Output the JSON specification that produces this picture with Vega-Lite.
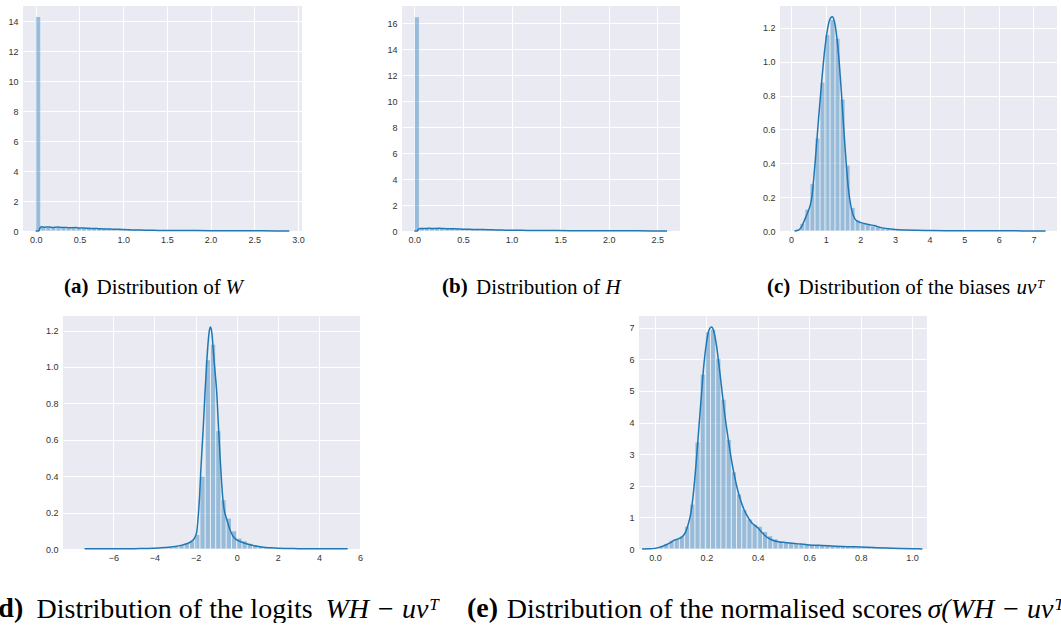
{
 "$schema": "https://vega.github.io/schema/vega-lite/v6.json",
 "background": "white",
 "padding": {"left": -11, "top": 6, "right": 0, "bottom": 0},
 "config": {
  "view": {"stroke": null, "fill": "#eaeaf2"},
  "axis": {"domain": false, "ticks": false, "grid": true, "gridColor": "#ffffff", "gridWidth": 1, "gridOpacity": 1, "labelFont": "Liberation Sans", "labelFontSize": 9, "labelColor": "#333333", "labelOverlap": false, "labelFlush": false, "labelBound": false, "titleFont": "Liberation Serif", "titleColor": "#000000", "titleFontWeight": "normal", "titleLimit": 2000, "titlePadding": 0},
  "axisX": {"labelPadding": 4},
  "axisY": {"labelPadding": 5}
 },
 "datasets": {
  "ha": [
   {"v":0,"v2":0.058,"density":14.3},{"v":0.058,"v2":0.116,"density":0.26},{"v":0.116,"v2":0.174,"density":0.24},{"v":0.174,"v2":0.232,"density":0.25},{"v":0.232,"v2":0.29,"density":0.23},{"v":0.29,"v2":0.348,"density":0.22},{"v":0.348,"v2":0.406,"density":0.23},{"v":0.406,"v2":0.464,"density":0.21},{"v":0.464,"v2":0.522,"density":0.21},{"v":0.522,"v2":0.58,"density":0.2},
   {"v":0.58,"v2":0.638,"density":0.19},{"v":0.638,"v2":0.696,"density":0.18},{"v":0.696,"v2":0.754,"density":0.17},{"v":0.754,"v2":0.812,"density":0.16},{"v":0.812,"v2":0.87,"density":0.15},{"v":0.87,"v2":0.928,"density":0.14},{"v":0.928,"v2":0.986,"density":0.13},{"v":0.986,"v2":1.044,"density":0.12},{"v":1.044,"v2":1.102,"density":0.11},{"v":1.102,"v2":1.16,"density":0.1},
   {"v":1.16,"v2":1.218,"density":0.09},{"v":1.218,"v2":1.276,"density":0.08},{"v":1.276,"v2":1.334,"density":0.07},{"v":1.334,"v2":1.392,"density":0.06},{"v":1.392,"v2":1.45,"density":0.055},{"v":1.45,"v2":1.508,"density":0.05},{"v":1.508,"v2":1.566,"density":0.045},{"v":1.566,"v2":1.624,"density":0.04},{"v":1.624,"v2":1.682,"density":0.038},{"v":1.682,"v2":1.74,"density":0.035},
   {"v":1.74,"v2":1.798,"density":0.032},{"v":1.798,"v2":1.856,"density":0.03},{"v":1.856,"v2":1.914,"density":0.028},{"v":1.914,"v2":1.972,"density":0.026},{"v":1.972,"v2":2.03,"density":0.025},{"v":2.03,"v2":2.088,"density":0.023},{"v":2.088,"v2":2.146,"density":0.022},{"v":2.146,"v2":2.204,"density":0.02},{"v":2.204,"v2":2.262,"density":0.019},{"v":2.262,"v2":2.32,"density":0.018},
   {"v":2.32,"v2":2.378,"density":0.016},{"v":2.378,"v2":2.436,"density":0.015},{"v":2.436,"v2":2.494,"density":0.014},{"v":2.494,"v2":2.552,"density":0.013},{"v":2.552,"v2":2.61,"density":0.012},{"v":2.61,"v2":2.668,"density":0.011},{"v":2.668,"v2":2.726,"density":0.01},{"v":2.726,"v2":2.784,"density":0.009},{"v":2.784,"v2":2.842,"density":0.008},{"v":2.842,"v2":2.9,"density":0.007}
  ],
  "ka": [
   {"v":0,"density":0},{"v":0.035,"density":0},{"v":0.05,"density":0.2},{"v":0.065,"density":0.28},{"v":0.1,"density":0.25},{"v":0.15,"density":0.27},{"v":0.2,"density":0.24},{"v":0.25,"density":0.26},{"v":0.3,"density":0.23},{"v":0.35,"density":0.24},{"v":0.4,"density":0.21},{"v":0.45,"density":0.23},{"v":0.5,"density":0.2},{"v":0.55,"density":0.2},{"v":0.6,"density":0.18},{"v":0.65,"density":0.17},{"v":0.7,"density":0.16},{"v":0.75,"density":0.15},{"v":0.8,"density":0.13},{"v":0.85,"density":0.13},{"v":0.9,"density":0.11},{"v":0.95,"density":0.11},{"v":1.0,"density":0.1},{"v":1.05,"density":0.09},{"v":1.1,"density":0.07},{"v":1.2,"density":0.06},{"v":1.3,"density":0.05},{"v":1.4,"density":0.04},{"v":1.5,"density":0.035},{"v":1.7,"density":0.03},{"v":2.0,"density":0.02},{"v":2.3,"density":0.015},{"v":2.6,"density":0.01},{"v":2.9,"density":0.005}
  ],
  "hb": [
   {"v":0,"v2":0.052,"density":16.5},{"v":0.052,"v2":0.104,"density":0.2},{"v":0.104,"v2":0.156,"density":0.19},{"v":0.156,"v2":0.208,"density":0.2},{"v":0.208,"v2":0.26,"density":0.19},{"v":0.26,"v2":0.312,"density":0.2},{"v":0.312,"v2":0.364,"density":0.18},{"v":0.364,"v2":0.416,"density":0.19},{"v":0.416,"v2":0.468,"density":0.17},{"v":0.468,"v2":0.52,"density":0.16},
   {"v":0.52,"v2":0.572,"density":0.15},{"v":0.572,"v2":0.624,"density":0.14},{"v":0.624,"v2":0.676,"density":0.13},{"v":0.676,"v2":0.728,"density":0.12},{"v":0.728,"v2":0.78,"density":0.11},{"v":0.78,"v2":0.832,"density":0.1},{"v":0.832,"v2":0.884,"density":0.09},{"v":0.884,"v2":0.936,"density":0.085},{"v":0.936,"v2":0.988,"density":0.08},{"v":0.988,"v2":1.04,"density":0.07},
   {"v":1.04,"v2":1.092,"density":0.065},{"v":1.092,"v2":1.144,"density":0.06},{"v":1.144,"v2":1.196,"density":0.055},{"v":1.196,"v2":1.248,"density":0.05},{"v":1.248,"v2":1.3,"density":0.045},{"v":1.3,"v2":1.352,"density":0.04},{"v":1.352,"v2":1.404,"density":0.037},{"v":1.404,"v2":1.456,"density":0.034},{"v":1.456,"v2":1.508,"density":0.031},{"v":1.508,"v2":1.56,"density":0.028},
   {"v":1.56,"v2":1.612,"density":0.026},{"v":1.612,"v2":1.664,"density":0.024},{"v":1.664,"v2":1.716,"density":0.022},{"v":1.716,"v2":1.768,"density":0.02},{"v":1.768,"v2":1.82,"density":0.019},{"v":1.82,"v2":1.872,"density":0.018},{"v":1.872,"v2":1.924,"density":0.017},{"v":1.924,"v2":1.976,"density":0.016},{"v":1.976,"v2":2.028,"density":0.015},{"v":2.028,"v2":2.08,"density":0.014},
   {"v":2.08,"v2":2.132,"density":0.013},{"v":2.132,"v2":2.184,"density":0.012},{"v":2.184,"v2":2.236,"density":0.011},{"v":2.236,"v2":2.288,"density":0.01},{"v":2.288,"v2":2.34,"density":0.009},{"v":2.34,"v2":2.392,"density":0.008},{"v":2.392,"v2":2.444,"density":0.007},{"v":2.444,"v2":2.496,"density":0.006},{"v":2.496,"v2":2.548,"density":0.006},{"v":2.548,"v2":2.6,"density":0.005}
  ],
  "kb": [
   {"v":0,"density":0},{"v":0.03,"density":0},{"v":0.045,"density":0.17},{"v":0.06,"density":0.2},{"v":0.1,"density":0.19},{"v":0.15,"density":0.21},{"v":0.2,"density":0.19},{"v":0.25,"density":0.21},{"v":0.3,"density":0.19},{"v":0.35,"density":0.18},{"v":0.4,"density":0.17},{"v":0.45,"density":0.16},{"v":0.5,"density":0.14},{"v":0.55,"density":0.13},{"v":0.6,"density":0.12},{"v":0.7,"density":0.11},{"v":0.8,"density":0.09},{"v":0.9,"density":0.07},{"v":1.0,"density":0.06},{"v":1.1,"density":0.05},{"v":1.2,"density":0.045},{"v":1.4,"density":0.035},{"v":1.6,"density":0.025},{"v":1.8,"density":0.02},{"v":2.0,"density":0.015},{"v":2.3,"density":0.01},{"v":2.6,"density":0.005}
  ],
  "hc": [
   {"v":0.11,"v2":0.255,"density":0.008},{"v":0.255,"v2":0.4,"density":0.045},{"v":0.4,"v2":0.545,"density":0.13},{"v":0.545,"v2":0.69,"density":0.28},{"v":0.69,"v2":0.835,"density":0.55},{"v":0.835,"v2":0.98,"density":0.88},{"v":0.98,"v2":1.125,"density":1.16},{"v":1.125,"v2":1.27,"density":1.25},{"v":1.27,"v2":1.415,"density":1.14},{"v":1.415,"v2":1.56,"density":0.78},
   {"v":1.56,"v2":1.705,"density":0.39},{"v":1.705,"v2":1.85,"density":0.14},{"v":1.85,"v2":1.995,"density":0.065},{"v":1.995,"v2":2.14,"density":0.045},{"v":2.14,"v2":2.285,"density":0.037},{"v":2.285,"v2":2.43,"density":0.03},{"v":2.43,"v2":2.575,"density":0.025},{"v":2.575,"v2":2.72,"density":0.018},{"v":2.72,"v2":2.865,"density":0.012},{"v":2.865,"v2":3.01,"density":0.008},
   {"v":3.01,"v2":3.155,"density":0.006},{"v":3.155,"v2":3.3,"density":0.005},{"v":3.3,"v2":3.445,"density":0.004},{"v":3.445,"v2":3.59,"density":0.003},{"v":3.59,"v2":3.735,"density":0.002},{"v":3.735,"v2":3.88,"density":0.002},{"v":3.88,"v2":4.025,"density":0.002},{"v":4.025,"v2":4.17,"density":0.002},{"v":4.17,"v2":4.315,"density":0.002},{"v":4.315,"v2":4.46,"density":0.002},
   {"v":4.46,"v2":4.605,"density":0.002},{"v":4.605,"v2":4.75,"density":0.001},{"v":4.75,"v2":4.895,"density":0.001},{"v":4.895,"v2":5.04,"density":0.001},{"v":5.04,"v2":5.185,"density":0.001},{"v":5.185,"v2":5.33,"density":0.001},{"v":5.33,"v2":5.475,"density":0.001},{"v":5.475,"v2":5.62,"density":0.001},{"v":5.62,"v2":5.765,"density":0.001},{"v":5.765,"v2":5.91,"density":0.001},
   {"v":5.91,"v2":6.055,"density":0.001},{"v":6.055,"v2":6.2,"density":0.001},{"v":6.2,"v2":6.345,"density":0.001},{"v":6.345,"v2":6.49,"density":0.001},{"v":6.49,"v2":6.635,"density":0.001},{"v":6.635,"v2":6.78,"density":0.001},{"v":6.78,"v2":6.925,"density":0.001},{"v":6.925,"v2":7.07,"density":0.001},{"v":7.07,"v2":7.215,"density":0.001},{"v":7.215,"v2":7.36,"density":0.001}
  ],
  "kc": [
   {"v":0.1,"density":0},{"v":0.2,"density":0.004},{"v":0.3,"density":0.025},{"v":0.4,"density":0.07},{"v":0.45,"density":0.095},{"v":0.5,"density":0.12},{"v":0.55,"density":0.15},{"v":0.6,"density":0.2},{"v":0.65,"density":0.3},{"v":0.7,"density":0.42},{"v":0.75,"density":0.55},{"v":0.8,"density":0.68},{"v":0.85,"density":0.8},{"v":0.9,"density":0.92},{"v":0.95,"density":1.03},{"v":1.0,"density":1.12},{"v":1.05,"density":1.19},{"v":1.1,"density":1.24},{"v":1.15,"density":1.262},{"v":1.19,"density":1.267},{"v":1.25,"density":1.24},{"v":1.3,"density":1.18},{"v":1.35,"density":1.09},{"v":1.4,"density":0.97},{"v":1.45,"density":0.83},{"v":1.5,"density":0.67},{"v":1.55,"density":0.52},{"v":1.6,"density":0.38},{"v":1.65,"density":0.26},{"v":1.7,"density":0.18},{"v":1.75,"density":0.125},{"v":1.8,"density":0.09},{"v":1.85,"density":0.07},{"v":1.9,"density":0.06},{"v":2.0,"density":0.05},{"v":2.1,"density":0.045},{"v":2.2,"density":0.04},{"v":2.3,"density":0.036},{"v":2.4,"density":0.032},{"v":2.5,"density":0.026},{"v":2.6,"density":0.02},{"v":2.8,"density":0.013},{"v":3.0,"density":0.009},{"v":3.3,"density":0.006},{"v":3.6,"density":0.004},{"v":4.0,"density":0.003},{"v":4.5,"density":0.002},{"v":5.0,"density":0.0015},{"v":6.0,"density":0.001},{"v":7.35,"density":0.0005}
  ],
  "hd": [
   {"v":-7.41,"v2":-7.154,"density":0.001},{"v":-7.154,"v2":-6.899,"density":0.001},{"v":-6.899,"v2":-6.643,"density":0.001},{"v":-6.643,"v2":-6.388,"density":0.001},{"v":-6.388,"v2":-6.132,"density":0.001},{"v":-6.132,"v2":-5.876,"density":0.001},{"v":-5.876,"v2":-5.621,"density":0.001},{"v":-5.621,"v2":-5.365,"density":0.001},{"v":-5.365,"v2":-5.11,"density":0.001},{"v":-5.11,"v2":-4.854,"density":0.001},
   {"v":-4.854,"v2":-4.598,"density":0.002},{"v":-4.598,"v2":-4.343,"density":0.002},{"v":-4.343,"v2":-4.087,"density":0.002},{"v":-4.087,"v2":-3.832,"density":0.002},{"v":-3.832,"v2":-3.576,"density":0.003},{"v":-3.576,"v2":-3.32,"density":0.005},{"v":-3.32,"v2":-3.065,"density":0.008},{"v":-3.065,"v2":-2.809,"density":0.012},{"v":-2.809,"v2":-2.554,"density":0.02},{"v":-2.554,"v2":-2.298,"density":0.03},
   {"v":-2.298,"v2":-2.042,"density":0.045},{"v":-2.042,"v2":-1.787,"density":0.08},{"v":-1.787,"v2":-1.531,"density":0.4},{"v":-1.531,"v2":-1.276,"density":1.04},{"v":-1.276,"v2":-1.02,"density":1.125},{"v":-1.02,"v2":-0.764,"density":0.65},{"v":-0.764,"v2":-0.509,"density":0.27},{"v":-0.509,"v2":-0.253,"density":0.17},{"v":-0.253,"v2":0.002,"density":0.1},{"v":0.002,"v2":0.258,"density":0.06},
   {"v":0.258,"v2":0.514,"density":0.045},{"v":0.514,"v2":0.769,"density":0.032},{"v":0.769,"v2":1.025,"density":0.022},{"v":1.025,"v2":1.28,"density":0.014},{"v":1.28,"v2":1.536,"density":0.009},{"v":1.536,"v2":1.792,"density":0.006},{"v":1.792,"v2":2.047,"density":0.004},{"v":2.047,"v2":2.303,"density":0.003},{"v":2.303,"v2":2.558,"density":0.002},{"v":2.558,"v2":2.814,"density":0.002},
   {"v":2.814,"v2":3.07,"density":0.002},{"v":3.07,"v2":3.325,"density":0.002},{"v":3.325,"v2":3.581,"density":0.002},{"v":3.581,"v2":3.836,"density":0.001},{"v":3.836,"v2":4.092,"density":0.001},{"v":4.092,"v2":4.348,"density":0.001},{"v":4.348,"v2":4.603,"density":0.001},{"v":4.603,"v2":4.859,"density":0.001},{"v":4.859,"v2":5.114,"density":0.001},{"v":5.114,"v2":5.37,"density":0.001}
  ],
  "kd": [
   {"v":-7.4,"density":0.002},{"v":-6,"density":0.002},{"v":-5,"density":0.002},{"v":-4.5,"density":0.003},{"v":-4,"density":0.004},{"v":-3.5,"density":0.008},{"v":-3,"density":0.014},{"v":-2.7,"density":0.02},{"v":-2.4,"density":0.03},{"v":-2.2,"density":0.042},{"v":-2.05,"density":0.06},{"v":-1.95,"density":0.09},{"v":-1.87,"density":0.18},{"v":-1.8,"density":0.3},{"v":-1.75,"density":0.42},{"v":-1.68,"density":0.56},{"v":-1.62,"density":0.68},{"v":-1.55,"density":0.84},{"v":-1.46,"density":1.02},{"v":-1.4,"density":1.12},{"v":-1.33,"density":1.2},{"v":-1.27,"density":1.22},{"v":-1.2,"density":1.18},{"v":-1.13,"density":1.08},{"v":-1.05,"density":0.97},{"v":-0.97,"density":0.86},{"v":-0.89,"density":0.68},{"v":-0.81,"density":0.51},{"v":-0.73,"density":0.36},{"v":-0.65,"density":0.25},{"v":-0.58,"density":0.2},{"v":-0.53,"density":0.18},{"v":-0.45,"density":0.15},{"v":-0.38,"density":0.125},{"v":-0.32,"density":0.105},{"v":-0.2,"density":0.075},{"v":-0.1,"density":0.06},{"v":0,"density":0.05},{"v":0.2,"density":0.04},{"v":0.4,"density":0.032},{"v":0.6,"density":0.025},{"v":0.8,"density":0.02},{"v":1.0,"density":0.015},{"v":1.3,"density":0.01},{"v":1.6,"density":0.007},{"v":2.0,"density":0.004},{"v":3,"density":0.002},{"v":4,"density":0.001},{"v":5.4,"density":0.001}
  ],
  "he": [
   {"v":-0.006,"v2":0.0142,"density":0.04},{"v":0.0142,"v2":0.0344,"density":0.1},{"v":0.0344,"v2":0.0546,"density":0.18},{"v":0.0546,"v2":0.0748,"density":0.28},{"v":0.0748,"v2":0.095,"density":0.33},{"v":0.095,"v2":0.1152,"density":0.42},{"v":0.1152,"v2":0.1354,"density":0.72},{"v":0.1354,"v2":0.1556,"density":1.42},{"v":0.1556,"v2":0.1758,"density":3.39},{"v":0.1758,"v2":0.196,"density":5.53},
   {"v":0.196,"v2":0.2162,"density":6.87},{"v":0.2162,"v2":0.2364,"density":6.95},{"v":0.2364,"v2":0.2566,"density":6.03},{"v":0.2566,"v2":0.2768,"density":4.74},{"v":0.2768,"v2":0.297,"density":3.47},{"v":0.297,"v2":0.3172,"density":2.44},{"v":0.3172,"v2":0.3374,"density":1.74},{"v":0.3374,"v2":0.3576,"density":1.25},{"v":0.3576,"v2":0.3778,"density":0.95},{"v":0.3778,"v2":0.398,"density":0.78},
   {"v":0.398,"v2":0.4182,"density":0.72},{"v":0.4182,"v2":0.4384,"density":0.55},{"v":0.4384,"v2":0.4586,"density":0.42},{"v":0.4586,"v2":0.4788,"density":0.32},{"v":0.4788,"v2":0.499,"density":0.25},{"v":0.499,"v2":0.5192,"density":0.22},{"v":0.5192,"v2":0.5394,"density":0.2},{"v":0.5394,"v2":0.5596,"density":0.18},{"v":0.5596,"v2":0.5798,"density":0.16},{"v":0.5798,"v2":0.6,"density":0.15},
   {"v":0.6,"v2":0.6202,"density":0.14},{"v":0.6202,"v2":0.6404,"density":0.13},{"v":0.6404,"v2":0.6606,"density":0.12},{"v":0.6606,"v2":0.6808,"density":0.11},{"v":0.6808,"v2":0.701,"density":0.1},{"v":0.701,"v2":0.7212,"density":0.09},{"v":0.7212,"v2":0.7414,"density":0.08},{"v":0.7414,"v2":0.7616,"density":0.07},{"v":0.7616,"v2":0.7818,"density":0.065},{"v":0.7818,"v2":0.802,"density":0.06},
   {"v":0.802,"v2":0.8222,"density":0.055},{"v":0.8222,"v2":0.8424,"density":0.05},{"v":0.8424,"v2":0.8626,"density":0.045},{"v":0.8626,"v2":0.8828,"density":0.04},{"v":0.8828,"v2":0.903,"density":0.035},{"v":0.903,"v2":0.9232,"density":0.03},{"v":0.9232,"v2":0.9434,"density":0.025},{"v":0.9434,"v2":0.9636,"density":0.02},{"v":0.9636,"v2":0.9838,"density":0.016},{"v":0.9838,"v2":1.004,"density":0.012}
  ],
  "ke": [
   {"v":-0.05,"density":0},{"v":-0.02,"density":0.005},{"v":0,"density":0.02},{"v":0.02,"density":0.06},{"v":0.04,"density":0.12},{"v":0.06,"density":0.2},{"v":0.075,"density":0.28},{"v":0.09,"density":0.32},{"v":0.105,"density":0.38},{"v":0.12,"density":0.55},{"v":0.13,"density":0.8},{"v":0.14,"density":1.15},{"v":0.15,"density":1.8},{"v":0.16,"density":2.7},{"v":0.17,"density":3.75},{"v":0.18,"density":4.8},{"v":0.19,"density":5.8},{"v":0.2,"density":6.5},{"v":0.21,"density":6.92},{"v":0.22,"density":7.02},{"v":0.23,"density":6.85},{"v":0.24,"density":6.4},{"v":0.25,"density":5.75},{"v":0.26,"density":5.05},{"v":0.27,"density":4.35},{"v":0.28,"density":3.75},{"v":0.29,"density":3.2},{"v":0.3,"density":2.7},{"v":0.31,"density":2.28},{"v":0.32,"density":1.92},{"v":0.33,"density":1.62},{"v":0.34,"density":1.38},{"v":0.35,"density":1.18},{"v":0.36,"density":1.03},{"v":0.37,"density":0.9},{"v":0.38,"density":0.8},{"v":0.39,"density":0.74},{"v":0.4,"density":0.67},{"v":0.41,"density":0.58},{"v":0.42,"density":0.49},{"v":0.43,"density":0.41},{"v":0.44,"density":0.35},{"v":0.46,"density":0.27},{"v":0.48,"density":0.23},{"v":0.5,"density":0.21},{"v":0.55,"density":0.17},{"v":0.6,"density":0.13},{"v":0.65,"density":0.11},{"v":0.7,"density":0.09},{"v":0.75,"density":0.075},{"v":0.8,"density":0.06},{"v":0.85,"density":0.045},{"v":0.9,"density":0.03},{"v":0.95,"density":0.018},{"v":1.0,"density":0.01},{"v":1.04,"density":0.003}
  ]
 },
 "spacing": 18,
 "vconcat": [
  {
   "spacing": 100,
   "bounds": "flush",
   "hconcat": [
    {
     "width": 279, "height": 225,
     "title": {"text": "(a)", "orient": "top", "anchor": "start", "frame": "group", "offset": 0, "dx": 41, "dy": 308, "baseline": "alphabetic", "align": "left", "font": "Liberation Serif", "fontSize": 21, "fontWeight": "bold", "color": "#000000", "limit": 2000},
     "layer": [
      {"data": {"name": "ha"}, "mark": {"type": "rect", "fill": "#1f77b4", "opacity": 0.4, "stroke": "#ffffff", "strokeWidth": 0.8},
       "encoding": {
        "x": {"field": "v", "type": "quantitative", "scale": {"domain": [-0.145, 3.045], "nice": false, "zero": false}, "axis": {"values": [0, 0.5, 1, 1.5, 2, 2.5, 3], "tickCount": 30, "format": ".1f", "title": "Distribution of", "titleX": 73, "titleY": 62, "titleAlign": "left", "titleBaseline": "alphabetic", "titleAngle": 0, "titleFontSize": 21}},
        "x2": {"field": "v2"},
        "y": {"field": "density", "type": "quantitative", "scale": {"domain": [0, 15], "nice": false}, "axis": {"values": [0, 2, 4, 6, 8, 10, 12, 14], "tickCount": 30, "format": "d", "title": "W", "titleX": 202, "titleY": 287, "titleAngle": 0, "titleAlign": "left", "titleBaseline": "alphabetic", "titleFontSize": 21, "titleFontStyle": "italic"}},
        "y2": {"datum": 0}
       }},
      {"data": {"name": "ka"}, "mark": {"type": "line", "stroke": "#1f77b4", "strokeWidth": 1.5, "interpolate": "monotone"},
       "encoding": {"x": {"field": "v", "type": "quantitative"}, "y": {"field": "density", "type": "quantitative"}}}
     ]
    },
    {
     "width": 278, "height": 225,
     "title": {"text": "(b)", "orient": "top", "anchor": "start", "frame": "group", "offset": 0, "dx": 40, "dy": 308, "baseline": "alphabetic", "align": "left", "font": "Liberation Serif", "fontSize": 21, "fontWeight": "bold", "color": "#000000", "limit": 2000},
     "layer": [
      {"data": {"name": "hb"}, "mark": {"type": "rect", "fill": "#1f77b4", "opacity": 0.4, "stroke": "#ffffff", "strokeWidth": 0.8},
       "encoding": {
        "x": {"field": "v", "type": "quantitative", "scale": {"domain": [-0.127, 2.733], "nice": false, "zero": false}, "axis": {"values": [0, 0.5, 1, 1.5, 2, 2.5], "tickCount": 30, "format": ".1f", "title": "Distribution of", "titleX": 73.5, "titleY": 62, "titleAlign": "left", "titleBaseline": "alphabetic", "titleAngle": 0, "titleFontSize": 21}},
        "x2": {"field": "v2"},
        "y": {"field": "density", "type": "quantitative", "scale": {"domain": [0, 17.33], "nice": false}, "axis": {"values": [0, 2, 4, 6, 8, 10, 12, 14, 16], "tickCount": 30, "format": "d", "title": "H", "titleX": 203, "titleY": 287, "titleAngle": 0, "titleAlign": "left", "titleBaseline": "alphabetic", "titleFontSize": 21, "titleFontStyle": "italic"}},
        "y2": {"datum": 0}
       }},
      {"data": {"name": "kb"}, "mark": {"type": "line", "stroke": "#1f77b4", "strokeWidth": 1.5, "interpolate": "monotone"},
       "encoding": {"x": {"field": "v", "type": "quantitative"}, "y": {"field": "density", "type": "quantitative"}}}
     ]
    },
    {
     "width": 277, "height": 225,
     "title": {"text": "(c)", "orient": "top", "anchor": "start", "frame": "group", "offset": 0, "dx": -13, "dy": 308, "baseline": "alphabetic", "align": "left", "font": "Liberation Serif", "fontSize": 21, "fontWeight": "bold", "color": "#000000", "limit": 2000},
     "layer": [
      {"data": {"name": "hc"}, "mark": {"type": "rect", "fill": "#1f77b4", "opacity": 0.4, "stroke": "#ffffff", "strokeWidth": 0.8},
       "encoding": {
        "x": {"field": "v", "type": "quantitative", "scale": {"domain": [-0.32, 7.68], "nice": false, "zero": false}, "axis": {"values": [0, 1, 2, 3, 4, 5, 6, 7], "tickCount": 30, "format": "d", "title": "Distribution of the biases", "titleX": 18, "titleY": 62, "titleAlign": "left", "titleBaseline": "alphabetic", "titleAngle": 0, "titleFontSize": 21}},
        "x2": {"field": "v2"},
        "y": {"field": "density", "type": "quantitative", "scale": {"domain": [0, 1.33], "nice": false}, "axis": {"values": [0, 0.2, 0.4, 0.6, 0.8, 1.0, 1.2], "tickCount": 30, "format": ".1f", "title": "uvᵀ", "titleX": 236, "titleY": 287, "titleAngle": 0, "titleAlign": "left", "titleBaseline": "alphabetic", "titleFontSize": 21, "titleFontStyle": "italic"}},
        "y2": {"datum": 0}
       }},
      {"data": {"name": "kc"}, "mark": {"type": "line", "stroke": "#1f77b4", "strokeWidth": 1.5, "interpolate": "monotone"},
       "encoding": {"x": {"field": "v", "type": "quantitative"}, "y": {"field": "density", "type": "quantitative"}}}
     ]
    }
   ]
  },
  {
   "spacing": 30,
   "bounds": "flush",
   "hconcat": [
    {"width": 10, "height": 10, "view": {"fill": "transparent", "stroke": "transparent"}, "data": {"values": [{"v": 0}]}, "mark": {"type": "point", "opacity": 0}, "encoding": {}},
    {
     "spacing": 279,
     "bounds": "flush",
     "hconcat": [
      {
       "width": 297, "height": 233,
       "title": {"text": "(d)", "orient": "top", "anchor": "start", "frame": "group", "offset": 0, "dx": -74, "dy": 329, "baseline": "alphabetic", "align": "left", "font": "Liberation Serif", "fontSize": 28, "fontWeight": "bold", "color": "#000000", "limit": 2000},
       "layer": [
        {"data": {"name": "hd"}, "mark": {"type": "rect", "fill": "#1f77b4", "opacity": 0.4, "stroke": "#ffffff", "strokeWidth": 0.8},
         "encoding": {
          "x": {"field": "v", "type": "quantitative", "scale": {"domain": [-8.45, 6.0], "nice": false, "zero": false}, "axis": {"values": [-6, -4, -2, 0, 2, 4, 6], "tickCount": 30, "format": "d", "title": "Distribution of the logits", "titleX": -27, "titleY": 68, "titleAlign": "left", "titleBaseline": "alphabetic", "titleAngle": 0, "titleFontSize": 28}},
          "x2": {"field": "v2"},
          "y": {"field": "density", "type": "quantitative", "scale": {"domain": [0, 1.28], "nice": false}, "axis": {"values": [0, 0.2, 0.4, 0.6, 0.8, 1.0, 1.2], "tickCount": 30, "format": ".1f", "title": "WH − uvᵀ", "titleX": 262, "titleY": 301, "titleAngle": 0, "titleAlign": "left", "titleBaseline": "alphabetic", "titleFontSize": 28, "titleFontStyle": "italic"}},
          "y2": {"datum": 0}
         }},
        {"data": {"name": "kd"}, "mark": {"type": "line", "stroke": "#1f77b4", "strokeWidth": 1.5, "interpolate": "monotone"},
         "encoding": {"x": {"field": "v", "type": "quantitative"}, "y": {"field": "density", "type": "quantitative"}}}
       ]
      },
      {
       "width": 288, "height": 233,
       "title": {"text": "(e)", "orient": "top", "anchor": "start", "frame": "group", "offset": 0, "dx": -172, "dy": 329, "baseline": "alphabetic", "align": "left", "font": "Liberation Serif", "fontSize": 28, "fontWeight": "bold", "color": "#000000", "limit": 2000},
       "layer": [
        {"data": {"name": "he"}, "mark": {"type": "rect", "fill": "#1f77b4", "opacity": 0.4, "stroke": "#ffffff", "strokeWidth": 0.8},
         "encoding": {
          "x": {"field": "v", "type": "quantitative", "scale": {"domain": [-0.062, 1.058], "nice": false, "zero": false}, "axis": {"values": [0, 0.2, 0.4, 0.6, 0.8, 1.0], "tickCount": 30, "format": ".1f", "title": "Distribution of the normalised scores", "titleX": -132.7, "titleY": 68, "titleAlign": "left", "titleBaseline": "alphabetic", "titleAngle": 0, "titleFontSize": 28}},
          "x2": {"field": "v2"},
          "y": {"field": "density", "type": "quantitative", "scale": {"domain": [0, 7.37], "nice": false}, "axis": {"values": [0, 1, 2, 3, 4, 5, 6, 7], "tickCount": 30, "format": "d", "title": "σ(WH − uvᵀ)", "titleX": 288, "titleY": 301, "titleAngle": 0, "titleAlign": "left", "titleBaseline": "alphabetic", "titleFontSize": 28, "titleFontStyle": "italic"}},
          "y2": {"datum": 0}
         }},
        {"data": {"name": "ke"}, "mark": {"type": "line", "stroke": "#1f77b4", "strokeWidth": 1.5, "interpolate": "monotone"},
         "encoding": {"x": {"field": "v", "type": "quantitative"}, "y": {"field": "density", "type": "quantitative"}}}
       ]
      }
     ]
    }
   ]
  }
 ]
}
